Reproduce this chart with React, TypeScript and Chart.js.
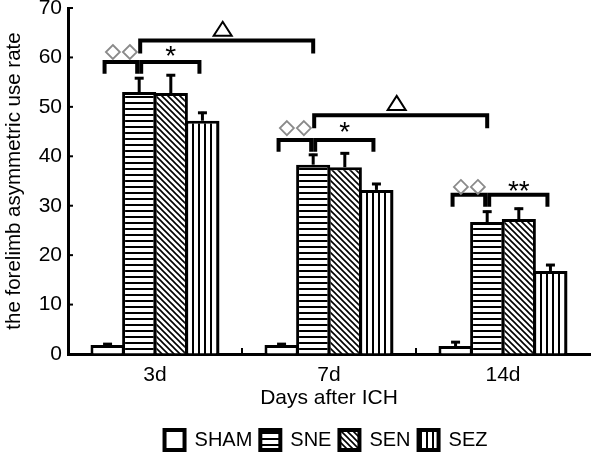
import React, { useEffect, useRef } from "react";
import { Chart, registerables } from "chart.js";

Chart.register(...registerables);

const categories = ["3d", "7d", "14d"];
const seriesNames = ["SHAM", "SNE", "SEN", "SEZ"];
const shamValues = [1.8, 1.8, 1.6];
const shamErrors = [0.4, 0.4, 1.0];
const sneValues = [53.0, 38.3, 26.7];
const sneErrors = [3.0, 2.2, 2.3];
const senValues = [52.8, 37.8, 27.3];
const senErrors = [3.8, 3.0, 2.3];
const sezValues = [47.2, 33.2, 16.8];
const sezErrors = [1.8, 1.4, 1.4];
const yTicksMax = 70;
const yTickStep = 10;

// significance annotations (value units)
const pairBracketY = [59.1, 43.3, 32.2];
const pairSymbolY = [61.1, 45.7, 33.8];
const starLabels = ["*", "*", "**"];
const spanBracketFrom = [0, 1];
const spanBracketTo = [1, 2];
const spanBracketY = [63.4, 48.3];
const spanSymbolY = [65.8, 50.8];

const FONT = '"Liberation Sans", Arial, sans-serif';

function makePattern(kind: string): CanvasPattern | string {
  const c = document.createElement("canvas");
  const s = 6;
  c.width = s;
  c.height = s;
  const g = c.getContext("2d")!;
  g.fillStyle = "#fff";
  g.fillRect(0, 0, s, s);
  g.strokeStyle = "#000";
  g.fillStyle = "#000";
  if (kind === "h") {
    g.fillRect(0, 0, s, 2);
  } else if (kind === "v") {
    g.fillRect(0, 0, 2, s);
  } else if (kind === "d") {
    g.lineWidth = 1.6;
    g.beginPath();
    g.moveTo(-1, -1);
    g.lineTo(s + 1, s + 1);
    g.moveTo(-1, s - 1);
    g.lineTo(1, s + 1);
    g.moveTo(s - 1, -1);
    g.lineTo(s + 1, 1);
    g.stroke();
  }
  const p = g.createPattern(c, "repeat");
  return p || "#fff";
}

const errorLists = [shamErrors, sneErrors, senErrors, sezErrors];

const decorPlugin = {
  id: "decor",
  afterLayout(chart: any) {
    const lg = chart.legend;
    if (lg) {
      lg.left += 31;
      lg.right += 31;
      lg.top += 4;
      lg.bottom += 4;
    }
  },
  afterDatasetsDraw(chart: any) {
    const ctx = chart.ctx;
    const ys = chart.scales.y;
    const xs = chart.scales.x;
    const area = chart.chartArea;
    ctx.save();
    // error bars
    ctx.strokeStyle = "#000";
    ctx.lineWidth = 3;
    ctx.lineCap = "butt";
    chart.data.datasets.forEach((ds: any, di: number) => {
      const meta = chart.getDatasetMeta(di);
      meta.data.forEach((el: any, i: number) => {
        const v = ds.data[i];
        const top = ys.getPixelForValue(v + errorLists[di][i]);
        ctx.beginPath();
        ctx.moveTo(el.x, el.y);
        ctx.lineTo(el.x, top);
        ctx.stroke();
        ctx.beginPath();
        ctx.moveTo(el.x - 4.5, top + 1);
        ctx.lineTo(el.x + 4.5, top + 1);
        ctx.stroke();
      });
    });
    // inward ticks on y axis
    ctx.lineWidth = 2;
    for (let v = 0; v <= yTicksMax; v += yTickStep) {
      const y = ys.getPixelForValue(v);
      ctx.beginPath();
      ctx.moveTo(area.left, y);
      ctx.lineTo(area.left + 5, y);
      ctx.stroke();
    }
    // small ticks between categories on x axis
    for (let i = 0; i + 1 < categories.length; i++) {
      const x = (xs.getPixelForValue(i) + xs.getPixelForValue(i + 1)) / 2;
      ctx.beginPath();
      ctx.moveTo(x, area.bottom);
      ctx.lineTo(x, area.bottom - 6);
      ctx.stroke();
    }
    // brackets
    const m0 = chart.getDatasetMeta(0).data;
    const m1 = chart.getDatasetMeta(1).data;
    const m3 = chart.getDatasetMeta(3).data;
    ctx.lineWidth = 4;
    ctx.lineCap = "square";
    ctx.lineJoin = "miter";
    const drop = ys.getPixelForValue(0) - ys.getPixelForValue(2);
    const bracket = (x1: number, x2: number, y: number, d: number) => {
      ctx.beginPath();
      ctx.moveTo(x1, y + d);
      ctx.lineTo(x1, y);
      ctx.lineTo(x2, y);
      ctx.lineTo(x2, y + d);
      ctx.stroke();
    };
    const diamonds = (cx: number, cy: number) => {
      ctx.save();
      ctx.strokeStyle = "#8a8a8a";
      ctx.lineWidth = 1.8;
      ctx.lineCap = "butt";
      [-8.5, 8.5].forEach((dx) => {
        const x = cx + dx;
        ctx.beginPath();
        ctx.moveTo(x, cy - 7);
        ctx.lineTo(x + 7, cy);
        ctx.lineTo(x, cy + 7);
        ctx.lineTo(x - 7, cy);
        ctx.closePath();
        ctx.stroke();
      });
      ctx.restore();
    };
    const triangle = (cx: number, cy: number) => {
      ctx.save();
      ctx.strokeStyle = "#000";
      ctx.lineWidth = 2;
      ctx.lineJoin = "miter";
      ctx.beginPath();
      ctx.moveTo(cx, cy - 7);
      ctx.lineTo(cx + 9, cy + 7);
      ctx.lineTo(cx - 9, cy + 7);
      ctx.closePath();
      ctx.stroke();
      ctx.restore();
    };
    for (let i = 0; i < categories.length; i++) {
      const yb = ys.getPixelForValue(pairBracketY[i]);
      bracket(m0[i].x - 3, m1[i].x - 2, yb, drop);
      bracket(m1[i].x + 2, m3[i].x - 3, yb, drop);
      const ysym = ys.getPixelForValue(pairSymbolY[i]);
      diamonds((m0[i].x + m1[i].x) / 2 - 2, ysym);
      ctx.save();
      ctx.fillStyle = "#000";
      ctx.font = '28px "Liberation Sans", Arial, sans-serif';
      ctx.textAlign = "center";
      ctx.textBaseline = "middle";
      ctx.fillText(starLabels[i], (m1[i].x + m3[i].x) / 2, ysym + 5);
      ctx.restore();
    }
    for (let k = 0; k < spanBracketFrom.length; k++) {
      const a = m1[spanBracketFrom[k]].x + 1;
      const b = m1[spanBracketTo[k]].x;
      const yb = ys.getPixelForValue(spanBracketY[k]);
      bracket(a, b, yb, drop * 1.1);
      triangle((a + b) / 2 - 4, ys.getPixelForValue(spanSymbolY[k]));
    }
    ctx.restore();
  },
};

export default function App() {
  const ref = useRef<HTMLCanvasElement | null>(null);
  useEffect(() => {
    const canvas = ref.current!;
    const hPat = makePattern("h");
    const dPat = makePattern("d");
    const vPat = makePattern("v");
    const values = [shamValues, sneValues, senValues, sezValues];
    const fills = ["#ffffff", hPat, dPat, vPat];
    const chart = new Chart(canvas, {
      type: "bar",
      data: {
        labels: categories,
        datasets: seriesNames.map((n, i) => ({
          label: n,
          data: values[i],
          backgroundColor: fills[i] as any,
          borderColor: "#000",
          borderWidth: 3,
          barPercentage: 1.08,
          categoryPercentage: 0.727,
        })),
      },
      options: {
        animation: false,
        responsive: false,
        maintainAspectRatio: false,
        layout: { autoPadding: false, padding: { top: 8, right: 10, left: 0, bottom: 0 } } as any,
        plugins: {
          tooltip: { enabled: false },
          legend: {
            position: "bottom",
            labels: {
              boxWidth: 20,
              boxHeight: 20,
              padding: 8,
              color: "#000",
              font: { size: 20, family: FONT },
              generateLabels: (c: any) =>
                Chart.defaults.plugins.legend.labels.generateLabels(c).map((l: any) => ({
                  ...l,
                  lineWidth: 4,
                  strokeStyle: "#000",
                })),
            },
          },
        },
        scales: {
          x: {
            grid: { display: true, drawOnChartArea: false, drawTicks: false },
            border: { display: true, width: 3, color: "#000" },
            ticks: { color: "#000", padding: 9, font: { size: 21, family: FONT } },
            title: {
              display: true,
              text: "Days after ICH",
              color: "#000",
              font: { size: 21, family: FONT },
              padding: { top: 0, bottom: 7 },
            },
            afterFit: (s: any) => {
              s.height = 64;
              s.paddingLeft = 0;
              s.paddingRight = 0;
            },
          },
          y: {
            min: 0,
            max: yTicksMax,
            grid: { display: true, drawOnChartArea: false, drawTicks: false },
            border: { display: true, width: 3, color: "#000" },
            ticks: { stepSize: yTickStep, color: "#000", padding: 6, font: { size: 21, family: FONT } },
            title: {
              display: true,
              text: "the forelimb asymmetric use rate",
              color: "#000",
              font: { size: 20.5, family: FONT },
              padding: { top: 2, bottom: 0 },
            },
            afterFit: (s: any) => {
              s.width = 68;
              s.paddingTop = 0;
              s.paddingBottom = 0;
            },
          },
        },
      },
      plugins: [decorPlugin],
    });
    return () => chart.destroy();
  }, []);
  return (
    <div style={{ position: "fixed", left: 0, top: 0, width: 600, height: 456, background: "#fff" }}>
      <canvas ref={ref} width={600} height={456} style={{ width: 600, height: 456 }} />
    </div>
  );
}
